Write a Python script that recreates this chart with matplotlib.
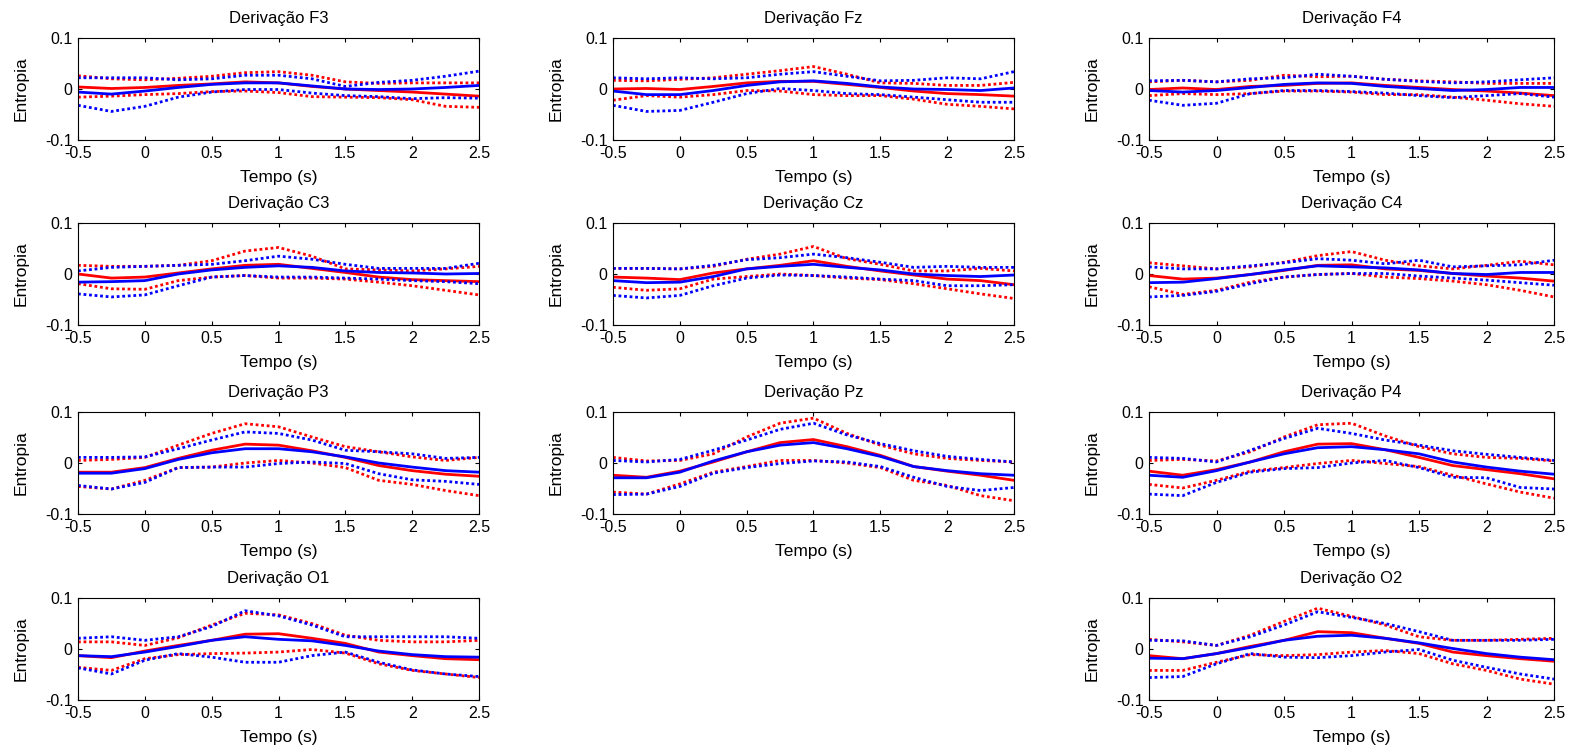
import matplotlib
matplotlib.use("Agg")
import matplotlib.pyplot as plt
from matplotlib.ticker import FuncFormatter

plt.rcParams['font.family'] = ['Liberation Sans', 'DejaVu Sans']
plt.rcParams['axes.unicode_minus'] = False

# time axis (s)
tempo = [-0.5, -0.25, 0, 0.25, 0.5, 0.75, 1, 1.25, 1.5, 1.75, 2, 2.25, 2.5]

# ---- F3
F3_red = [0.004, 0.001, 0.003, 0.007, 0.010, 0.014, 0.012, 0.005, 0.000, -0.003, -0.006, -0.010, -0.014]
F3_red_up = [0.026, 0.020, 0.018, 0.021, 0.025, 0.032, 0.034, 0.027, 0.014, 0.011, 0.012, 0.012, 0.012]
F3_red_lo = [-0.016, -0.014, -0.011, -0.009, -0.005, -0.004, -0.007, -0.015, -0.016, -0.017, -0.021, -0.034, -0.036]
F3_blue = [-0.006, -0.010, -0.004, 0.003, 0.009, 0.012, 0.012, 0.006, 0.000, -0.001, 0.000, 0.003, 0.007]
F3_blue_up = [0.022, 0.022, 0.022, 0.018, 0.020, 0.027, 0.027, 0.020, 0.005, 0.013, 0.017, 0.025, 0.035]
F3_blue_lo = [-0.032, -0.044, -0.034, -0.016, -0.006, -0.001, -0.001, -0.008, -0.013, -0.015, -0.019, -0.017, -0.018]

# ---- Fz
Fz_red = [0.000, 0.001, -0.001, 0.005, 0.012, 0.015, 0.015, 0.009, 0.003, -0.004, -0.009, -0.011, -0.014]
Fz_red_up = [0.017, 0.016, 0.019, 0.022, 0.029, 0.036, 0.044, 0.029, 0.012, 0.011, 0.007, 0.007, 0.013]
Fz_red_lo = [-0.022, -0.013, -0.016, -0.011, -0.003, -0.004, -0.011, -0.013, -0.013, -0.020, -0.030, -0.034, -0.039]
Fz_blue = [-0.004, -0.011, -0.011, -0.003, 0.007, 0.014, 0.016, 0.011, 0.004, 0.000, -0.001, -0.003, 0.002]
Fz_blue_up = [0.022, 0.020, 0.022, 0.020, 0.022, 0.029, 0.034, 0.025, 0.016, 0.017, 0.022, 0.020, 0.034]
Fz_blue_lo = [-0.032, -0.044, -0.042, -0.026, -0.009, 0.001, -0.003, -0.009, -0.011, -0.016, -0.021, -0.026, -0.026]

# ---- F4
F4_red = [-0.001, 0.002, -0.001, 0.005, 0.007, 0.011, 0.012, 0.007, 0.003, -0.001, -0.004, -0.008, -0.013]
F4_red_up = [0.014, 0.017, 0.014, 0.017, 0.027, 0.024, 0.025, 0.019, 0.016, 0.014, 0.011, 0.011, 0.011]
F4_red_lo = [-0.013, -0.009, -0.011, -0.009, -0.004, -0.004, -0.006, -0.011, -0.011, -0.016, -0.022, -0.029, -0.034]
F4_blue = [-0.003, -0.006, -0.003, 0.003, 0.009, 0.012, 0.011, 0.005, 0.001, -0.003, -0.001, 0.003, 0.003]
F4_blue_up = [0.016, 0.017, 0.014, 0.020, 0.022, 0.029, 0.025, 0.019, 0.015, 0.012, 0.014, 0.018, 0.022]
F4_blue_lo = [-0.022, -0.032, -0.028, -0.009, -0.003, -0.003, -0.005, -0.008, -0.013, -0.017, -0.013, -0.009, -0.016]

# ---- C3
C3_red = [0.000, -0.008, -0.006, 0.002, 0.010, 0.017, 0.019, 0.011, 0.003, -0.006, -0.011, -0.013, -0.015]
C3_red_up = [0.017, 0.015, 0.015, 0.017, 0.026, 0.045, 0.052, 0.035, 0.010, 0.008, 0.006, 0.010, 0.015]
C3_red_lo = [-0.019, -0.029, -0.030, -0.013, -0.006, -0.003, -0.008, -0.008, -0.010, -0.016, -0.023, -0.032, -0.041]
C3_blue = [-0.016, -0.015, -0.013, 0.000, 0.008, 0.013, 0.016, 0.013, 0.006, 0.003, 0.002, 0.000, 0.001]
C3_blue_up = [0.006, 0.013, 0.015, 0.017, 0.019, 0.026, 0.035, 0.029, 0.019, 0.011, 0.011, 0.011, 0.021]
C3_blue_lo = [-0.039, -0.045, -0.041, -0.023, -0.006, -0.003, -0.006, -0.006, -0.008, -0.010, -0.013, -0.015, -0.019]

# ---- Cz
Cz_red = [-0.006, -0.008, -0.011, 0.002, 0.010, 0.017, 0.026, 0.015, 0.006, -0.002, -0.010, -0.013, -0.021]
Cz_red_up = [0.011, 0.011, 0.010, 0.015, 0.029, 0.039, 0.054, 0.030, 0.019, 0.006, 0.006, 0.011, 0.006]
Cz_red_lo = [-0.026, -0.032, -0.029, -0.010, -0.005, 0.000, -0.003, -0.008, -0.011, -0.019, -0.029, -0.039, -0.048]
Cz_blue = [-0.013, -0.017, -0.016, -0.005, 0.010, 0.015, 0.019, 0.013, 0.008, 0.000, -0.003, -0.005, -0.002]
Cz_blue_up = [0.011, 0.011, 0.010, 0.017, 0.028, 0.032, 0.039, 0.032, 0.023, 0.013, 0.015, 0.013, 0.013]
Cz_blue_lo = [-0.042, -0.047, -0.042, -0.023, -0.008, -0.002, -0.003, -0.006, -0.010, -0.013, -0.023, -0.023, -0.021]

# ---- C4
C4_red = [-0.003, -0.010, -0.008, -0.001, 0.007, 0.017, 0.018, 0.010, 0.007, 0.001, -0.004, -0.008, -0.014]
C4_red_up = [0.022, 0.016, 0.010, 0.014, 0.023, 0.036, 0.044, 0.027, 0.016, 0.010, 0.017, 0.025, 0.018]
C4_red_lo = [-0.025, -0.040, -0.032, -0.016, -0.006, -0.001, 0.001, -0.006, -0.009, -0.014, -0.021, -0.032, -0.045]
C4_blue = [-0.017, -0.016, -0.009, -0.001, 0.008, 0.016, 0.014, 0.012, 0.008, 0.001, -0.001, 0.003, 0.003]
C4_blue_up = [0.014, 0.010, 0.010, 0.016, 0.022, 0.030, 0.027, 0.020, 0.027, 0.014, 0.016, 0.018, 0.027]
C4_blue_lo = [-0.045, -0.042, -0.034, -0.019, -0.006, -0.001, 0.001, 0.001, -0.004, -0.008, -0.012, -0.017, -0.022]

# ---- P3
P3_red = [-0.018, -0.018, -0.009, 0.009, 0.025, 0.037, 0.035, 0.024, 0.011, -0.005, -0.015, -0.022, -0.026]
P3_red_up = [0.005, 0.007, 0.011, 0.035, 0.058, 0.077, 0.071, 0.051, 0.032, 0.022, 0.012, 0.005, 0.011]
P3_red_lo = [-0.046, -0.051, -0.034, -0.009, -0.008, 0.000, 0.005, 0.000, -0.009, -0.034, -0.042, -0.054, -0.064]
P3_blue = [-0.020, -0.020, -0.011, 0.007, 0.020, 0.028, 0.028, 0.022, 0.012, 0.000, -0.008, -0.015, -0.018]
P3_blue_up = [0.011, 0.011, 0.012, 0.028, 0.045, 0.061, 0.058, 0.045, 0.025, 0.022, 0.018, 0.009, 0.011]
P3_blue_lo = [-0.044, -0.051, -0.038, -0.009, -0.008, -0.008, -0.001, 0.002, -0.001, -0.021, -0.033, -0.036, -0.042]

# ---- Pz
Pz_red = [-0.024, -0.028, -0.016, 0.002, 0.022, 0.040, 0.046, 0.032, 0.015, -0.007, -0.016, -0.024, -0.034]
Pz_red_up = [0.011, 0.004, 0.005, 0.018, 0.051, 0.078, 0.088, 0.058, 0.035, 0.018, 0.009, 0.005, 0.002]
Pz_red_lo = [-0.057, -0.061, -0.041, -0.018, -0.007, 0.005, 0.005, 0.000, -0.009, -0.034, -0.044, -0.064, -0.074]
Pz_blue = [-0.029, -0.029, -0.018, 0.004, 0.022, 0.035, 0.040, 0.028, 0.013, -0.007, -0.015, -0.021, -0.024]
Pz_blue_up = [0.005, 0.002, 0.007, 0.025, 0.045, 0.066, 0.078, 0.055, 0.038, 0.024, 0.013, 0.007, 0.002]
Pz_blue_lo = [-0.062, -0.061, -0.046, -0.020, -0.009, -0.001, 0.004, 0.002, -0.007, -0.028, -0.046, -0.054, -0.048]

# ---- P4
P4_red = [-0.016, -0.024, -0.013, 0.002, 0.022, 0.037, 0.038, 0.026, 0.011, -0.005, -0.013, -0.021, -0.031]
P4_red_up = [0.005, 0.007, 0.004, 0.022, 0.051, 0.075, 0.078, 0.053, 0.032, 0.018, 0.011, 0.009, 0.004]
P4_red_lo = [-0.042, -0.049, -0.034, -0.016, -0.009, -0.001, 0.005, -0.001, -0.007, -0.024, -0.041, -0.057, -0.069]
P4_blue = [-0.024, -0.028, -0.015, 0.002, 0.018, 0.030, 0.032, 0.026, 0.018, 0.002, -0.008, -0.016, -0.022]
P4_blue_up = [0.011, 0.009, 0.002, 0.025, 0.048, 0.068, 0.058, 0.045, 0.035, 0.024, 0.017, 0.011, 0.005]
P4_blue_lo = [-0.061, -0.064, -0.038, -0.018, -0.011, -0.009, 0.000, 0.005, -0.009, -0.028, -0.029, -0.048, -0.051]

# ---- O1
O1_red = [-0.013, -0.017, -0.004, 0.007, 0.017, 0.029, 0.030, 0.021, 0.011, -0.006, -0.013, -0.019, -0.021]
O1_red_up = [0.014, 0.014, 0.007, 0.022, 0.047, 0.070, 0.067, 0.050, 0.027, 0.017, 0.014, 0.014, 0.017]
O1_red_lo = [-0.036, -0.042, -0.019, -0.011, -0.009, -0.008, -0.006, -0.001, -0.008, -0.029, -0.042, -0.049, -0.056]
O1_blue = [-0.013, -0.015, -0.006, 0.005, 0.017, 0.024, 0.019, 0.016, 0.007, -0.004, -0.011, -0.015, -0.016]
O1_blue_up = [0.021, 0.024, 0.017, 0.024, 0.044, 0.075, 0.065, 0.047, 0.024, 0.024, 0.024, 0.024, 0.021]
O1_blue_lo = [-0.037, -0.049, -0.022, -0.009, -0.016, -0.026, -0.026, -0.013, -0.006, -0.026, -0.041, -0.049, -0.054]

# ---- O2
O2_red = [-0.013, -0.019, -0.009, 0.005, 0.017, 0.034, 0.032, 0.021, 0.011, -0.006, -0.013, -0.019, -0.024]
O2_red_up = [0.019, 0.014, 0.007, 0.027, 0.054, 0.080, 0.064, 0.047, 0.024, 0.017, 0.017, 0.019, 0.021]
O2_red_lo = [-0.042, -0.042, -0.026, -0.011, -0.013, -0.011, -0.006, -0.003, -0.009, -0.029, -0.042, -0.059, -0.069]
O2_blue = [-0.018, -0.019, -0.009, 0.003, 0.017, 0.025, 0.027, 0.021, 0.012, 0.001, -0.009, -0.016, -0.021]
O2_blue_up = [0.017, 0.016, 0.007, 0.024, 0.047, 0.073, 0.062, 0.050, 0.034, 0.017, 0.017, 0.017, 0.019]
O2_blue_lo = [-0.056, -0.054, -0.029, -0.009, -0.016, -0.017, -0.013, -0.006, -0.001, -0.022, -0.036, -0.049, -0.059]

panels = [
    ("F3", 0, 0, F3_red, F3_red_up, F3_red_lo, F3_blue, F3_blue_up, F3_blue_lo),
    ("Fz", 0, 1, Fz_red, Fz_red_up, Fz_red_lo, Fz_blue, Fz_blue_up, Fz_blue_lo),
    ("F4", 0, 2, F4_red, F4_red_up, F4_red_lo, F4_blue, F4_blue_up, F4_blue_lo),
    ("C3", 1, 0, C3_red, C3_red_up, C3_red_lo, C3_blue, C3_blue_up, C3_blue_lo),
    ("Cz", 1, 1, Cz_red, Cz_red_up, Cz_red_lo, Cz_blue, Cz_blue_up, Cz_blue_lo),
    ("C4", 1, 2, C4_red, C4_red_up, C4_red_lo, C4_blue, C4_blue_up, C4_blue_lo),
    ("P3", 2, 0, P3_red, P3_red_up, P3_red_lo, P3_blue, P3_blue_up, P3_blue_lo),
    ("Pz", 2, 1, Pz_red, Pz_red_up, Pz_red_lo, Pz_blue, Pz_blue_up, Pz_blue_lo),
    ("P4", 2, 2, P4_red, P4_red_up, P4_red_lo, P4_blue, P4_blue_up, P4_blue_lo),
    ("O1", 3, 0, O1_red, O1_red_up, O1_red_lo, O1_blue, O1_blue_up, O1_blue_lo),
    ("O2", 3, 2, O2_red, O2_red_up, O2_red_lo, O2_blue, O2_blue_up, O2_blue_lo),
]

W, H = 1577, 753
fig = plt.figure(figsize=(W / 100, H / 100), dpi=100)

col_left = [78, 613, 1149]
col_width = [401, 401, 405]
row_top = [38, 223, 412, 598]
ax_h = 102

fmt = FuncFormatter(lambda v, p: "%g" % round(v, 3))
dot = (0, (1, 1))

for name, r, c, rm, ru, rl, bm, bu, bl in panels:
    left = col_left[c] / W
    bottom = 1 - (row_top[r] + ax_h) / H
    ax = fig.add_axes([left, bottom, col_width[c] / W, ax_h / H])
    ax.plot(tempo, ru, color='red', ls=dot, lw=2)
    ax.plot(tempo, rl, color='red', ls=dot, lw=2)
    ax.plot(tempo, rm, color='red', lw=2)
    ax.plot(tempo, bu, color='blue', ls=dot, lw=2)
    ax.plot(tempo, bl, color='blue', ls=dot, lw=2)
    ax.plot(tempo, bm, color='blue', lw=2)
    ax.set_xlim(-0.5, 2.5)
    ax.set_ylim(-0.1, 0.1)
    ax.set_xticks([-0.5, 0, 0.5, 1, 1.5, 2, 2.5])
    ax.set_yticks([-0.1, 0, 0.1])
    ax.xaxis.set_major_formatter(fmt)
    ax.yaxis.set_major_formatter(fmt)
    ax.tick_params(direction='in', top=True, right=True, length=3, labelsize=11.5)
    ax.tick_params(axis='x', pad=4)
    ax.tick_params(axis='y', pad=4)
    for s in ax.spines.values():
        s.set_linewidth(0.8)
    ax.set_title("Derivação " + name, fontsize=12, pad=10.5)
    ax.set_xlabel("Tempo (s)", fontsize=12.5, labelpad=7)
    ax.set_ylabel("Entropia", fontsize=12.5, labelpad=12)

fig.savefig("out.png", dpi=100)
